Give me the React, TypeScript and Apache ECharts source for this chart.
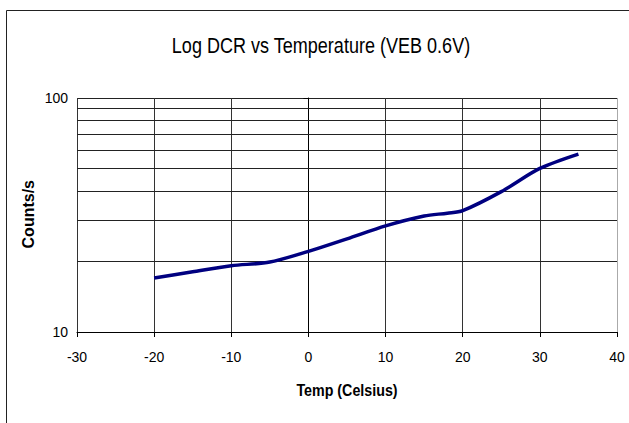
import React, { useEffect, useRef } from "react";
import * as echarts from "echarts";

const temps = [-20, -15, -10, -5, 0, 5, 10, 15, 18, 20, 25, 30, 35];
const counts = [17.0, 18.1, 19.2, 19.9, 22.1, 25.0, 28.4, 31.3, 32.2, 33.0, 39.8, 50.0, 57.6];
const minorGrid = [20, 30, 40, 50, 60, 70, 80, 90];
const titleText = "Log DCR vs Temperature (VEB 0.6V)";
const xName = "Temp (Celsius)";
const yName = "Counts/s";

export default function App() {
  const ref = useRef<HTMLDivElement>(null);
  useEffect(() => {
    if (!ref.current) return;
    const chart = echarts.init(ref.current, null, { renderer: "svg" });
    const font = "'Liberation Sans', Arial, sans-serif";
    chart.setOption({
      animation: false,
      backgroundColor: "#ffffff",
      textStyle: { fontFamily: font },
      graphic: [
        {
          type: "rect",
          left: 4,
          top: 8,
          shape: { width: 700, height: 500 },
          style: { fill: "none", stroke: "#222", lineWidth: 1 },
          z: -1,
        },
        {
          type: "text",
          x: 321,
          y: 45,
          scaleX: 0.82,
          style: {
            text: titleText,
            fontFamily: font,
            fontSize: 22,
            fill: "#000",
            textAlign: "center",
            textVerticalAlign: "middle",
          },
        },
        {
          type: "text",
          x: 347,
          y: 390,
          scaleX: 0.84,
          style: {
            text: xName,
            fontFamily: font,
            fontSize: 17,
            fontWeight: "bold",
            fill: "#000",
            textAlign: "center",
            textVerticalAlign: "middle",
          },
        },
        {
          type: "text",
          left: 20,
          top: 180,
          rotation: Math.PI / 2,
          style: {
            text: yName,
            fontFamily: font,
            fontSize: 16,
            fontWeight: "bold",
            fill: "#000",
          },
        },
      ],
      grid: { left: 77, right: 12, top: 98, bottom: 91 },
      xAxis: {
        type: "value",
        min: -30,
        max: 40,
        interval: 10,
        axisLine: { show: true, onZero: false, lineStyle: { color: "#000", width: 1 } },
        axisTick: { show: true, length: 5, lineStyle: { color: "#000" } },
        axisLabel: { fontFamily: font, fontSize: 14, color: "#000", margin: 18 },
        splitLine: {
          show: true,
          lineStyle: {
            color: ["#333", "#333", "#333", "#333", "#333", "#333", "#333", "#aaa"],
            width: 1,
          },
        },
      },
      yAxis: {
        type: "log",
        logBase: 10,
        min: 10,
        max: 100,
        axisLine: { show: true, lineStyle: { color: "#000", width: 1 } },
        axisTick: { show: true, length: 5, lineStyle: { color: "#000" } },
        axisLabel: { fontFamily: font, fontSize: 14, color: "#000", margin: 9 },
        splitLine: { show: true, lineStyle: { color: "#222", width: 1 } },
      },
      series: [
        {
          type: "line",
          data: temps.map((t, i) => [t, counts[i]]),
          smooth: 0.3,
          showSymbol: false,
          symbol: "none",
          lineStyle: { color: "#000080", width: 3.5 },
          markLine: {
            silent: true,
            symbol: ["none", "none"],
            label: { show: false },
            lineStyle: { color: "#222", width: 1, type: "solid" },
            data: minorGrid.map((v) => ({ yAxis: v })),
            z: 1,
          },
          z: 3,
        },
      ],
    });
    return () => chart.dispose();
  }, []);
  return <div ref={ref} style={{ width: 629, height: 423, position: "absolute", left: 0, top: 0 }} />;
}
